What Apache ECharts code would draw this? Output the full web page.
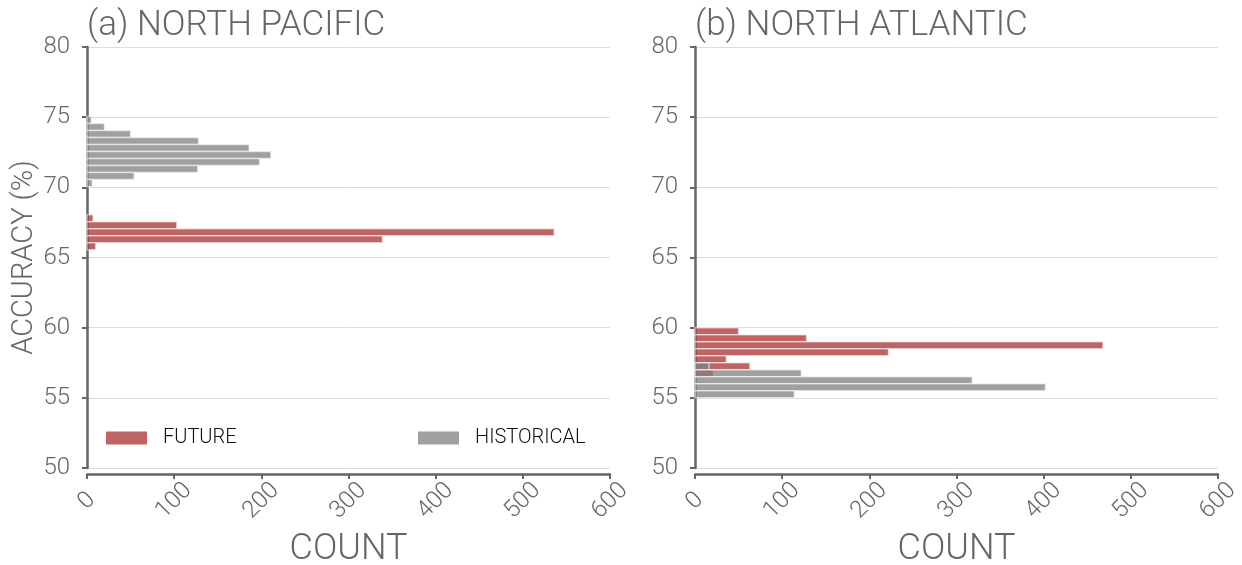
<!DOCTYPE html>
<html>
<head>
<meta charset="utf-8">
<script src="https://cdn.jsdelivr.net/npm/echarts@6/dist/echarts.min.js"></script>
<style>
html,body{margin:0;padding:0;background:#fff;}
#chart{width:1242px;height:565px;}
</style>
</head>
<body>
<div id="chart"></div>
<script>
// ---- data (bin centre accuracy %, count) ----
const BIN_WIDTH = 0.5;
const PAC_FUT_ACC = [67.8, 67.3, 66.8, 66.3, 65.8];
const PAC_FUT_CNT = [7, 103, 536, 339, 10];
const PAC_HIS_ACC = [74.8, 74.3, 73.8, 73.3, 72.8, 72.3, 71.8, 71.3, 70.8, 70.3];
const PAC_HIS_CNT = [5, 20, 50, 128, 186, 211, 198, 127, 54, 6];
const ATL_FUT_ACC = [59.75, 59.25, 58.75, 58.25, 57.75, 57.25, 56.75];
const ATL_FUT_CNT = [50, 128, 468, 222, 36, 63, 21];
const ATL_HIS_ACC = [57.25, 56.75, 56.25, 55.75, 55.25];
const ATL_HIS_CNT = [16, 122, 318, 402, 114];
const PANEL_TITLES = ['(a) NORTH PACIFIC', '(b) NORTH ATLANTIC'];
const SERIES_NAMES = ['FUTURE', 'HISTORICAL'];
const X_TICKS = {min: 0, max: 600, interval: 100};
const Y_TICKS = {min: 50, max: 80, interval: 5};

const FUT_COLOR = 'rgba(168,48,48,0.75)';
const HIS_COLOR = 'rgba(128,128,128,0.75)';
const TXT = '#666666';
const FONT = 'Roboto';

function pairs(acc, cnt) { return acc.map((a, i) => [a, cnt[i]]); }

function makeRender(color) {
  return function (params, api) {
    const y = api.value(0), c = api.value(1);
    const p0 = api.coord([0, y + BIN_WIDTH / 2]);
    const p1 = api.coord([c, y - BIN_WIDTH / 2]);
    return {
      type: 'rect',
      shape: {x: p0[0], y: p0[1], width: p1[0] - p0[0], height: p1[1] - p0[1]},
      style: {fill: color, stroke: 'rgba(255,255,255,0.55)', lineWidth: 1.5}
    };
  };
}

const grids = [
  {left: 87, width: 523, top: 47, height: 421, outerBoundsMode: 'none', containLabel: false},
  {left: 695, width: 523, top: 47, height: 421, outerBoundsMode: 'none', containLabel: false}
];

function xAx(i) {
  return {
    gridIndex: i, type: 'value', min: X_TICKS.min, max: X_TICKS.max, interval: X_TICKS.interval,
    offset: 6,
    axisLine: {show: true, lineStyle: {color: TXT, width: 2.5}},
    axisTick: {show: true, length: 5, lineStyle: {color: TXT, width: 2}},
    splitLine: {show: false},
    axisLabel: {rotate: 45, fontSize: 24, color: TXT, fontFamily: FONT, fontWeight: 300,
      align: 'center', verticalAlign: 'middle', margin: 27},
    name: 'COUNT', nameLocation: 'middle', nameGap: 58,
    nameTextStyle: {fontSize: 36, color: TXT, fontFamily: FONT, fontWeight: 300}
  };
}
function yAx(i) {
  const a = {
    gridIndex: i, type: 'value', min: Y_TICKS.min, max: Y_TICKS.max, interval: Y_TICKS.interval,
    offset: 7,
    axisLine: {show: true, lineStyle: {color: TXT, width: 2.5}},
    axisTick: {show: true, length: 5, lineStyle: {color: TXT, width: 2}},
    splitLine: {show: true, lineStyle: {color: '#dcdcdc', width: 1}},
    axisLabel: {fontSize: 24, color: TXT, fontFamily: FONT, fontWeight: 300, margin: 10}
  };
  if (i === 0) {
    a.name = 'ACCURACY (%)';
    a.nameLocation = 'middle';
    a.nameGap = 40;
    a.nameTextStyle = {fontSize: 29, color: TXT, fontFamily: FONT, fontWeight: 300};
  }
  return a;
}

function series(name, acc, cnt, color, gi) {
  return {
    type: 'custom', name: name, xAxisIndex: gi, yAxisIndex: gi,
    data: pairs(acc, cnt), encode: {x: 1, y: 0},
    itemStyle: {color: color},
    renderItem: makeRender(color), silent: true
  };
}

const legendCommon = {
  top: 423, itemWidth: 41, itemHeight: 13, icon: 'rect', selectedMode: false,
  formatter: function (n) { return '{t|' + n + '}'; },
  textStyle: {fontSize: 20, color: '#111', fontFamily: FONT, fontWeight: 300,
    rich: {t: {fontSize: 20, color: '#111', fontFamily: FONT, fontWeight: 300, padding: [0, 0, 0, 11]}}}
};

const option = {
  animation: false,
  backgroundColor: '#fff',
  title: [
    {text: PANEL_TITLES[0], left: 82, top: 4, textStyle: {fontSize: 35, color: TXT, fontFamily: FONT, fontWeight: 300}},
    {text: PANEL_TITLES[1], left: 690, top: 4, textStyle: {fontSize: 35, color: TXT, fontFamily: FONT, fontWeight: 300}}
  ],
  legend: [
    Object.assign({}, legendCommon, {left: 101, data: [SERIES_NAMES[0]]}),
    Object.assign({}, legendCommon, {left: 413, data: [SERIES_NAMES[1]]})
  ],
  grid: grids,
  xAxis: [xAx(0), xAx(1)],
  yAxis: [yAx(0), yAx(1)],
  series: [
    series(SERIES_NAMES[0], PAC_FUT_ACC, PAC_FUT_CNT, FUT_COLOR, 0),
    series(SERIES_NAMES[1], PAC_HIS_ACC, PAC_HIS_CNT, HIS_COLOR, 0),
    series(SERIES_NAMES[0] + ' ', ATL_FUT_ACC, ATL_FUT_CNT, FUT_COLOR, 1),
    series(SERIES_NAMES[1] + ' ', ATL_HIS_ACC, ATL_HIS_CNT, HIS_COLOR, 1)
  ]
};

const chart = echarts.init(document.getElementById('chart'), null, {renderer: 'canvas'});
chart.setOption(option);
</script>
</body>
</html>
